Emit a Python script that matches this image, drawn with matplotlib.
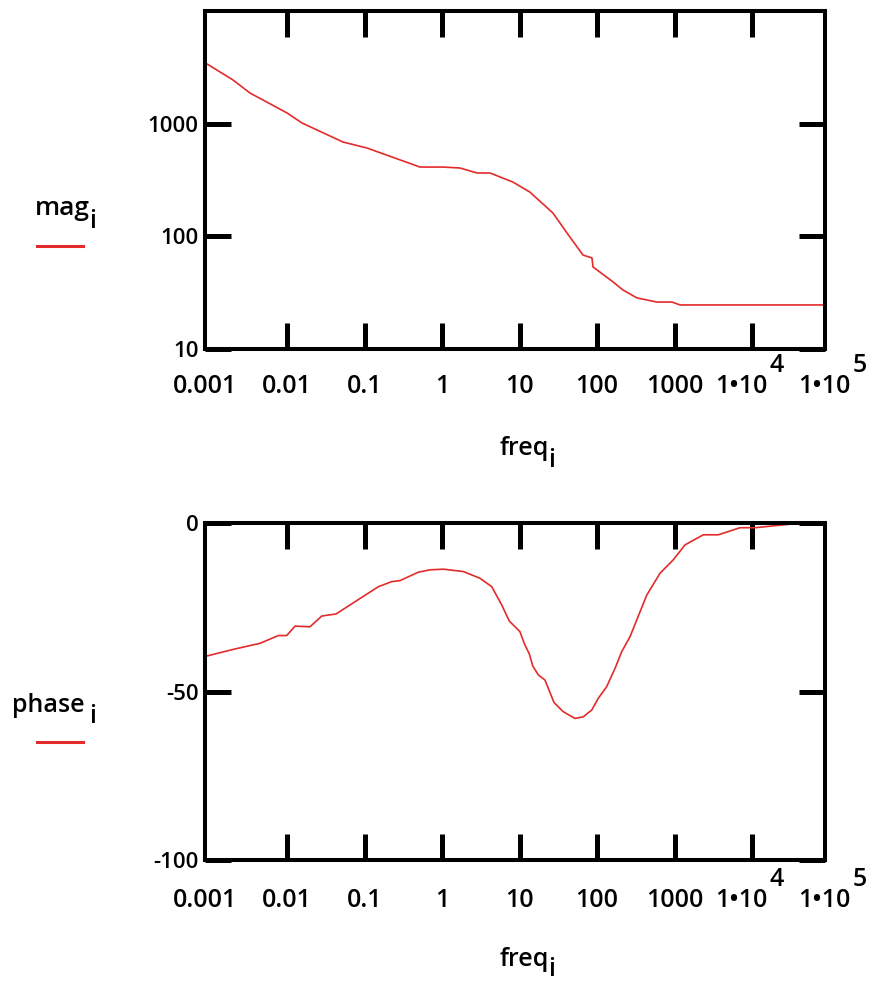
import matplotlib
matplotlib.use("Agg")
import matplotlib.pyplot as plt
from matplotlib.lines import Line2D
from matplotlib.transforms import blended_transform_factory

W, H = 871, 981
FONT = "Open Sans"
plt.rcParams["font.family"] = [FONT, "DejaVu Sans"]
plt.rcParams["font.weight"] = "semibold"
FS = 18
FSY = 16
RED = "#e32b2b"

# ---------------- data ----------------
mag_freq = [0.000875, 0.00201, 0.00333, 0.0100, 0.0156, 0.0528, 0.1076, 0.520,
            1.03, 1.71, 2.83, 4.16, 8.24, 13.6, 27.0, 41.0, 65.9, 86.1, 88.7,
            161, 216, 328, 594, 929, 1178, 86100]
mag = [3476, 2443, 1871, 1245, 1014, 687, 608, 412,
       412, 404, 365, 365, 303, 247, 161, 107, 68.2, 64.3, 53.5,
       39.4, 33.4, 28.4, 26.1, 26.1, 24.6, 24.6]

phase_freq = [0.000875, 0.00203, 0.00449, 0.00773, 0.00991, 0.0127, 0.0198,
              0.0281, 0.0429, 0.0875, 0.151, 0.224, 0.287, 0.494, 0.700, 1.04,
              1.88, 3.09, 4.38, 5.89, 7.38, 10.1, 11.5, 13.4, 14.8, 17.5, 21.3,
              27.9, 36.7, 52.0, 66.5, 85.5, 104, 133, 171, 208, 267, 438, 650,
              966, 1365, 2355, 3673, 7000, 10940, 35890]
phase = [-39.6, -37.5, -35.7, -33.4, -33.4, -30.6, -30.8,
         -27.6, -27.0, -22.4, -18.9, -17.4, -17.1, -14.6, -13.9, -13.7,
         -14.4, -16.4, -18.9, -24.3, -29.1, -32.2, -35.7, -38.9, -42.4, -45.1, -46.6,
         -53.3, -56.0, -58.0, -57.5, -55.5, -52.0, -48.6, -43.1, -38.2, -33.7, -21.4, -14.9,
         -10.9, -6.5, -3.5, -3.5, -1.4, -1.4, -0.2]

XMIN, XMAX = 10 ** -3.058, 10 ** 4.935
x_ticks = [0.01, 0.1, 1, 10, 100, 1000, 10000]
x_plain_pos = [XMIN, 0.01, 0.1, 1, 10, 100, 1000]
x_plain_txt = ["0.001", "0.01", "0.1", "1", "10", "100", "1000"]
x_exp_pos = [10000, XMAX]
x_exp_txt = ["4", "5"]

mag_yticks = [10, 100, 1000]
mag_ylabels = ["10", "100", "1000"]
phase_yticks = [-100, -50, 0]
phase_ylabels = ["-100", "-50", "0"]

# ---------------- figure ----------------
fig = plt.figure(figsize=(W / 100, H / 100), dpi=100)


def px_rect(l, t, r, b):
    return [l / W, 1 - b / H, (r - l) / W, (b - t) / H]


ax1 = fig.add_axes(px_rect(205, 11, 824.5, 349))
ax2 = fig.add_axes(px_rect(205, 523, 824.5, 860))


def style(ax, base_off):
    ax.set_xscale("log")
    ax.set_xlim(XMIN, XMAX)
    for s in ax.spines.values():
        s.set_linewidth(2.9)
        s.set_color("black")
    ax.minorticks_off()
    ax.set_xticks(x_ticks)
    ax.tick_params(axis="x", which="major", direction="in", length=18.7, width=3.6,
                   top=True, bottom=True, labelbottom=False)
    ax.tick_params(axis="x", which="minor", length=0)
    ax.tick_params(axis="y", which="major", direction="in", length=18.7, width=3.6,
                   left=True, right=True, labelsize=FSY, pad=4.5)
    ax.tick_params(axis="y", which="minor", length=0)
    tr = blended_transform_factory(ax.transData, ax.transAxes)
    for p, t in zip(x_plain_pos, x_plain_txt):
        ax.annotate(t, xy=(p, 0), xycoords=tr, xytext=(0, -base_off),
                    textcoords="offset points", ha="center", va="baseline",
                    fontsize=FS, annotation_clip=False)
    dxs = [10.8, 18.4]
    for p, t, dx in zip(x_exp_pos, x_exp_txt, dxs):
        ax.annotate("1\u202210", xy=(p, 0), xycoords=tr, xytext=(dx, -base_off),
                    textcoords="offset points", ha="right", va="baseline",
                    fontsize=FS, annotation_clip=False)
        ax.annotate(t, xy=(p, 0), xycoords=tr, xytext=(dx + 1.5, -base_off + 15.1),
                    textcoords="offset points", ha="left", va="baseline",
                    fontsize=FS, annotation_clip=False)


# top panel
ax1.plot(mag_freq, mag, color=RED, lw=1.2)
ax1.set_yscale("log")
ax1.set_ylim(10, 10000)
style(ax1, 31.7)
ax1.set_yticks(mag_yticks)
ax1.set_yticklabels(mag_ylabels)
ax1.minorticks_off()

# bottom panel
ax2.plot(phase_freq, phase, color=RED, lw=1.2)
ax2.set_ylim(-100, 0)
style(ax2, 33.8)
ax2.set_yticks(phase_yticks)
ax2.set_yticklabels(phase_ylabels)
ax2.minorticks_off()


def ftext(x, y, s, fs=FS, **kw):
    fig.text(x / W, 1 - y / H, s, fontsize=fs, va="baseline", **kw)


# axis names with literal subscripts
ftext(35, 215, "mag", fs=19)
ftext(89, 228, "i")
ftext(12, 712, "phase")
ftext(89, 723, "i")
ftext(500, 455, "freq")
ftext(548, 467, "i")
ftext(500, 966, "freq")
ftext(548, 976, "i")

for yy in (246, 742):
    fig.add_artist(Line2D([37 / W, 83 / W], [1 - yy / H, 1 - yy / H],
                          color=RED, lw=2.2, transform=fig.transFigure))

fig.savefig("out.png", dpi=100)
